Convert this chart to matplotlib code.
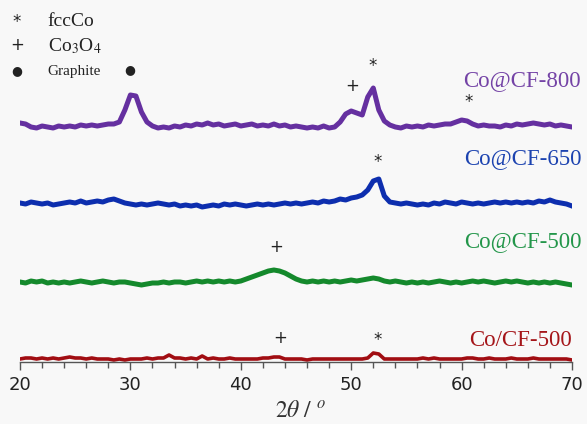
import numpy as np
import matplotlib
matplotlib.use("Agg")
import matplotlib.pyplot as plt

plt.rcParams["mathtext.fontset"] = "stix"

# 2theta grid of the scans (deg)
two_theta = np.arange(20, 70.01, 0.5)

# intensities (a.u.) above each trace's own baseline
i_800 = [8, 7, 4, 3, 5, 4, 3, 5, 4, 5, 4, 6, 5, 6, 5, 6, 7, 7, 9, 21,
         36, 35, 19, 9, 5, 3, 4, 3, 5, 4, 6, 5, 7, 6, 8, 6, 7, 5, 6, 7,
         5, 6, 7, 5, 6, 5, 7, 5, 6, 4, 5, 4, 3, 4, 3, 5, 3, 4, 9, 17,
         20, 18, 16, 34, 43, 21, 10, 6, 4, 3, 5, 4, 5, 4, 6, 5, 6, 7, 7, 9,
         11, 10, 7, 5, 6, 5, 5, 4, 6, 5, 7, 6, 7, 8, 7, 6, 7, 5, 6, 5,
         4]
i_650 = [5, 4, 6, 5, 4, 5, 3, 4, 5, 6, 5, 7, 5, 6, 7, 6, 8, 9, 7, 5,
         4, 3, 4, 3, 4, 5, 4, 3, 4, 2, 3, 2, 3, 1, 2, 3, 2, 4, 3, 4,
         3, 2, 3, 4, 3, 4, 3, 4, 5, 4, 5, 4, 5, 6, 5, 7, 6, 7, 9, 8,
         10, 11, 13, 18, 27, 29, 12, 6, 5, 4, 5, 4, 3, 4, 3, 5, 4, 6, 5, 4,
         6, 5, 4, 5, 4, 5, 6, 5, 6, 5, 6, 5, 6, 5, 7, 6, 8, 6, 5, 4,
         2]
i_500 = [4, 3, 5, 4, 5, 3, 4, 3, 4, 3, 4, 5, 4, 3, 4, 5, 4, 3, 4, 4,
         3, 2, 1, 2, 3, 3, 4, 3, 4, 4, 3, 4, 5, 4, 5, 4, 5, 4, 5, 4,
         5, 7, 9, 11, 13, 15, 16, 15, 13, 10, 7, 5, 4, 5, 4, 5, 4, 5, 4, 5,
         6, 5, 6, 7, 8, 7, 5, 4, 5, 4, 3, 4, 3, 4, 3, 4, 5, 4, 3, 4,
         3, 4, 5, 4, 5, 4, 3, 4, 5, 4, 5, 4, 3, 4, 3, 4, 3, 4, 3, 2,
         1]
i_co500 = [3, 4, 4, 3, 4, 3, 4, 3, 4, 5, 4, 4, 3, 4, 3, 3, 3, 2, 3, 2,
           3, 3, 3, 4, 3, 4, 4, 7, 4, 4, 3, 4, 3, 6, 3, 4, 3, 3, 4, 3,
           3, 3, 3, 3, 4, 4, 5, 5, 3, 3, 3, 3, 2, 3, 3, 3, 3, 3, 3, 3,
           3, 3, 3, 4, 9, 8, 3, 3, 3, 3, 3, 3, 3, 4, 3, 4, 3, 3, 3, 3,
           3, 4, 4, 3, 3, 4, 3, 3, 3, 4, 3, 3, 3, 4, 3, 3, 3, 3, 3, 3,
           2]

names = ["Co@CF-800", "Co@CF-650", "Co@CF-500", "Co/CF-500"]
offsets = [231, 154, 76, 0]
line_colors = ["#6530a0", "#0d2eae", "#14892c", "#a10d12"]
text_colors = ["#7443a6", "#1c43b0", "#23964a", "#a5161a"]

fig = plt.figure(figsize=(5.87, 4.24), dpi=100, facecolor="#f8f8f8")
ax = fig.add_axes([20 / 587, 62 / 424, 552 / 587, 362 / 424])
ax.set_facecolor("#f8f8f8")

series = [i_800, i_650, i_500, i_co500]
label_xy = [(70.8, 281), (70.9, 203), (70.9, 120), (70.0, 22)]
for k in range(4):
    y = np.array(series[k]) + offsets[k]
    lw = 3.6 if k < 3 else 2.6
    ax.plot(two_theta, y, color=line_colors[k], lw=lw, solid_joinstyle="round")
    ax.text(label_xy[k][0], label_xy[k][1], names[k], color=text_colors[k],
            fontsize=16.5, family="Liberation Serif", ha="right", va="center")

# phase markers above the reflections
marks = [("●", 29.96, 292, 9), ("+", 50.07, 276, 12), ("*", 51.97, 296, 12),
         ("*", 60.6, 260, 12), ("*", 52.4, 200, 12), ("+", 43.2, 115, 12),
         ("+", 43.55, 24, 12), ("*", 52.4, 22, 12)]
for sym, mx, my, fs in marks:
    ax.text(mx, my, sym, fontsize=fs, color="#222222", ha="center", va="center",
            family=["DejaVu Sans"])

# key for the marker symbols
ax.text(19.7, 340, "*", fontsize=12, color="#222222", ha="center", va="center")
ax.text(19.7, 317, "+", fontsize=12, color="#222222", ha="center", va="center")
ax.text(19.7, 291, "●", fontsize=9, color="#222222", ha="center", va="center")
ax.text(22.5, 340, "fccCo", fontsize=14, family="Liberation Serif", color="#222222", va="center")
ax.text(22.5, 316, r"Co$_3$O$_4$", fontsize=14, family="Liberation Serif", color="#222222", va="center")
ax.text(22.5, 291, "Graphite", fontsize=11, family="Liberation Serif", color="#222222", va="center")

ax.set_xlim(20, 70)
ax.set_ylim(0, 362)
for s in ["top", "right", "left"]:
    ax.spines[s].set_visible(False)
ax.spines["bottom"].set_color("#555555")
ax.spines["bottom"].set_linewidth(1.0)
ax.set_yticks([])
ax.set_xticks(np.arange(20, 71, 10))
ax.set_xticks(np.arange(20, 71, 2), minor=True)
ax.tick_params(axis="x", which="major", direction="out", length=6, width=1,
               color="#555555", labelsize=13, pad=4, labelcolor="#222222")
ax.tick_params(axis="x", which="minor", direction="out", length=4, width=1,
               color="#555555")
for lab in ax.get_xticklabels():
    lab.set_family(["Liberation Sans Narrow", "DejaVu Sans"])

fig.text(0.512, 0.032, r"$2\theta\ /\ ^{o}$", fontsize=17, color="#333333",
         ha="center", va="center")

fig.savefig("out.png", dpi=100, facecolor=fig.get_facecolor())
